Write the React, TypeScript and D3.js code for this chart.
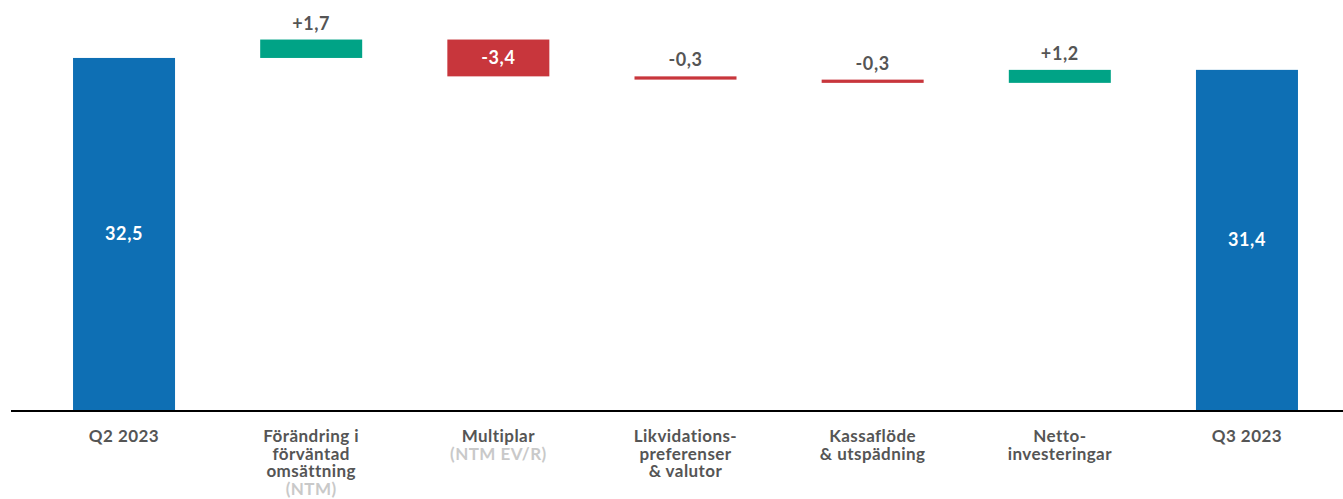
import React, { useEffect, useRef } from "react";
import * as d3 from "d3";

// Bridge from Q2 2023 to Q3 2023 value
const categories = [
  "Q2 2023",
  "Förändring i förväntad omsättning (NTM)",
  "Multiplar (NTM EV/R)",
  "Likvidations-preferenser & valutor",
  "Kassaflöde & utspädning",
  "Netto-investeringar",
  "Q3 2023",
];
const labelLines: string[][] = [
  ["Q2 2023"],
  ["Förändring i", "förväntad", "omsättning"],
  ["Multiplar"],
  ["Likvidations-", "preferenser", "& valutor"],
  ["Kassaflöde", "& utspädning"],
  ["Netto-", "investeringar"],
  ["Q3 2023"],
];
const labelNotes = ["", "(NTM)", "(NTM EV/R)", "", "", "", ""];
const startValue = 32.5;
const changes = [1.7, -3.4, -0.3, -0.3, 1.2];
const endValue = 31.4;

const W = 1343;
const H = 499;
const BLUE = "#0e6fb4";
const GREEN = "#00a386";
const RED = "#c8363c";
const TEXT = "#555555";
const NOTE = "#c9c9c9";
const FONT = "Lato, 'Open Sans', sans-serif";

type Bar = { cat: string; y0: number; y1: number; kind: "total" | "up" | "down"; label: string };

export default function App() {
  const ref = useRef<SVGSVGElement>(null);

  useEffect(() => {
    const svg = d3.select(ref.current!);
    svg.selectAll("*").remove();

    const fmt = (v: number) => d3.format(".1f")(Math.abs(v)).replace(".", ",");
    const bars: Bar[] = [];
    bars.push({ cat: categories[0], y0: 0, y1: startValue, kind: "total", label: fmt(startValue) });
    let run = startValue;
    changes.forEach((c, i) => {
      const next = run + c;
      bars.push({
        cat: categories[i + 1],
        y0: run,
        y1: next,
        kind: c >= 0 ? "up" : "down",
        label: (c >= 0 ? "+" : "-") + fmt(c),
      });
      run = next;
    });
    bars.push({ cat: categories[6], y0: 0, y1: endValue, kind: "total", label: fmt(endValue) });

    const x = d3
      .scaleBand<string>()
      .domain(categories)
      .range([35.6, 1335.4])
      .paddingInner(0.455)
      .paddingOuter(0.2);
    const y = d3.scaleLinear().domain([0, 37.85]).range([410, 0]);

    const color = (b: Bar) => (b.kind === "total" ? BLUE : b.kind === "up" ? GREEN : RED);
    const barH = (d: Bar) => Math.abs(y(d.y0) - y(d.y1));
    const inside = (d: Bar) => barH(d) > 25;

    const g = svg.append("g");
    g.selectAll("rect.bar")
      .data(bars)
      .join("rect")
      .attr("class", "bar")
      .attr("x", (d) => x(d.cat)!)
      .attr("width", x.bandwidth())
      .attr("y", (d) => y(Math.max(d.y0, d.y1)))
      .attr("height", barH)
      .attr("fill", color);

    // value labels: inside white for tall bars, above in grey for short ones
    g.selectAll("text.val")
      .data(bars)
      .join("text")
      .attr("class", "val")
      .attr("x", (d) => x(d.cat)! + x.bandwidth() / 2)
      .attr("y", (d) => {
        const top = y(Math.max(d.y0, d.y1));
        return inside(d) ? top + barH(d) / 2 + 6.5 : top - 10;
      })
      .attr("text-anchor", "middle")
      .attr("font-family", FONT)
      .attr("font-weight", 700)
      .attr("font-size", 18)
      .attr("letter-spacing", 0.6)
      .attr("fill", (d) => (inside(d) ? "#ffffff" : TEXT))
      .text((d) => d.label);

    // baseline
    svg
      .append("line")
      .attr("x1", 11)
      .attr("x2", W)
      .attr("y1", y(0) + 1)
      .attr("y2", y(0) + 1)
      .attr("stroke", "#000")
      .attr("stroke-width", 2);

    // category labels
    const lab = svg
      .selectAll("text.cat")
      .data(categories)
      .join("text")
      .attr("class", "cat")
      .attr("text-anchor", "middle")
      .attr("font-family", FONT)
      .attr("font-weight", 700)
      .attr("font-size", 17)
      .attr("letter-spacing", 0.45)
      .attr("fill", TEXT);
    lab.each(function (c, i) {
      const t = d3.select(this);
      const cx = x(c)! + x.bandwidth() / 2;
      const lines = labelLines[i].map((s) => ({ s, note: false }));
      if (labelNotes[i]) lines.push({ s: labelNotes[i], note: true });
      lines.forEach((l, j) => {
        t.append("tspan")
          .attr("x", cx)
          .attr("y", 442 + j * 17.6)
          .attr("fill", l.note ? NOTE : TEXT)
          .text(l.s);
      });
    });
  }, []);

  return (
    <svg
      ref={ref}
      width={W}
      height={H}
      style={{ position: "absolute", left: 0, top: 0, background: "#fff" }}
    />
  );
}
